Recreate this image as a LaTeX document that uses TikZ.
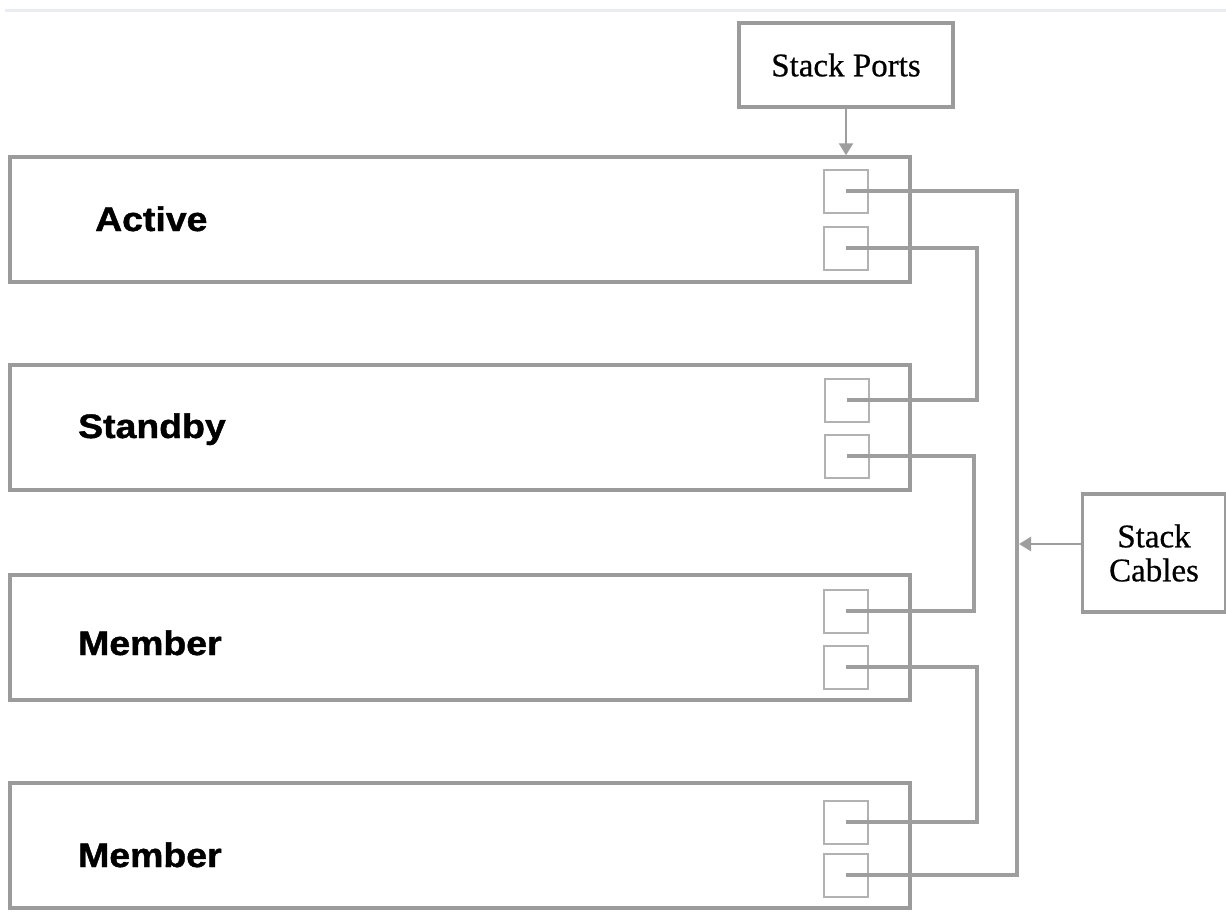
\documentclass[tikz,border=0pt]{standalone}
\usepackage{fontspec}
\setmainfont{Liberation Serif}[FakeBold=0.6]
\newfontfamily\swfont{Liberation Sans}[BoldFeatures={FakeBold=1.2}]
\usetikzlibrary{arrows.meta}
\definecolor{boxgray}{HTML}{9B9B9B}
\definecolor{portgray}{HTML}{B2B2B2}
\definecolor{cablegray}{HTML}{9E9E9E}
\definecolor{topline}{HTML}{E9ECF1}
\tikzset{
  switchbox/.style={draw=boxgray, line width=3.5pt, minimum width=900pt, minimum height=125pt, inner sep=0pt},
  portbox/.style={draw=portgray, line width=2pt, minimum width=44pt, minimum height=43pt, inner sep=0pt},
  cable/.style={draw=cablegray, line width=4pt},
  labelbox/.style={draw=boxgray, line width=3.5pt, inner sep=0pt, font=\fontsize{33}{34}\selectfont, align=center},
  swlabel/.style={anchor=base west, inner sep=0pt, font=\swfont\bfseries\fontsize{34}{36}\selectfont},
  pointer/.style={draw=cablegray, line width=2.5pt, -{Triangle[width=14pt,length=12pt]}}
}
\begin{document}
\begin{tikzpicture}[x=1pt,y=-1pt]
\useasboundingbox (0,0) rectangle (1226,919);
\fill[white] (0,0) rectangle (1226,919);
\draw[topline, line width=3pt] (5,10) -- (1226,10);

% switches
\node[switchbox] (act) at (460,219.5) {};
\node[switchbox] (stb) at (460,427.5) {};
\node[switchbox] (mem1) at (460,637.5) {};
\node[switchbox] (mem2) at (460,845.5) {};

\node[swlabel] (lact) at (95,231) {\scalebox{1.1}[1]{Active}};
\node[swlabel] (lstb) at (78,438) {\scalebox{1.1}[1]{Standby}};
\node[swlabel] (lmem1) at (78,655) {\scalebox{1.1}[1]{Member}};
\node[swlabel] (lmem2) at (78,867) {\scalebox{1.1}[1]{Member}};

% ports
\node[portbox] (a1) at (846,191) {};
\node[portbox] (a2) at (846,248) {};
\node[portbox] (s1) at (847,400) {};
\node[portbox] (s2) at (847,456) {};
\node[portbox] (m1a) at (846,611) {};
\node[portbox] (m1b) at (846,667) {};
\node[portbox] (m2a) at (846,822) {};
\node[portbox] (m2b) at (846,875) {};

% cables
\draw[cable] (a1.center) -- ++(171,0) |- (m2b.center);
\draw[cable] (a2.center) -- ++(131,0) |- (s1.center);
\draw[cable] (s2.center) -- ++(127,0) |- (m1a.center);
\draw[cable] (m1b.center) -- ++(131,0) |- (m2a.center);

% annotation boxes
\node[labelbox, minimum width=214pt, minimum height=84pt] (sp) at (846,65) {Stack Ports};
\node[labelbox, minimum width=143pt, minimum height=118pt] (sc) at (1154,553) {Stack\\Cables};

\coordinate (bus) at (1019,544);
\draw[pointer] (sp.south) -- (sp.south |- act.north);
\draw[pointer] (bus -| sc.west) -- (bus);
\end{tikzpicture}
\end{document}
